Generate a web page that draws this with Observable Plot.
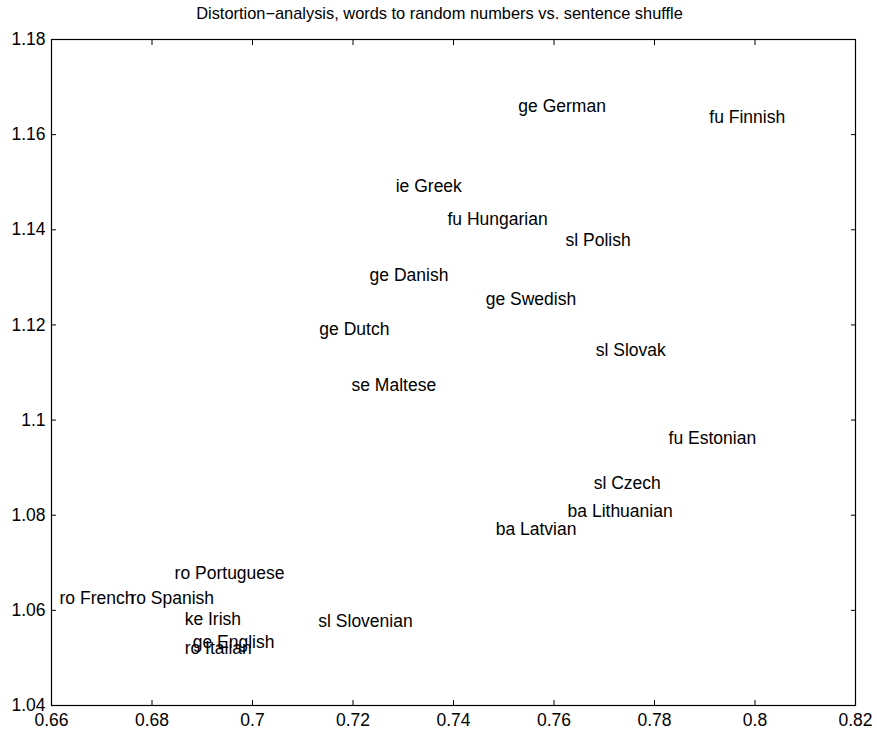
<!DOCTYPE html>
<html><head><meta charset="utf-8">
<script src="https://cdn.jsdelivr.net/npm/d3@7"></script>
<script src="https://cdn.jsdelivr.net/npm/@observablehq/plot@0.6"></script>
<style>body{margin:0;background:#fff} svg{display:block}</style>
</head><body><div id="chart"></div>
<script>
const title = "Distortion\u2212analysis, words to random numbers vs. sentence shuffle";
const labels = ["ge German","fu Finnish","ie Greek","fu Hungarian","sl Polish","ge Danish","ge Swedish","ge Dutch","sl Slovak","se Maltese","fu Estonian","sl Czech","ba Lithuanian","ba Latvian","ro Portuguese","ro French","ro Spanish","ke Irish","ge English","ro Italian","sl Slovenian"];
const xs = [0.7529,0.7909,0.7285,0.7388,0.7623,0.7233,0.7464,0.7133,0.7683,0.7197,0.7828,0.7679,0.7627,0.7484,0.6845,0.6616,0.6757,0.6865,0.6881,0.6865,0.7131];
const ys = [1.1659,1.1636,1.1491,1.1422,1.1377,1.1304,1.1253,1.1190,1.1146,1.1073,1.0961,1.0867,1.0808,1.0770,1.0677,1.0625,1.0625,1.0581,1.0532,1.0520,1.0577];
const xTicks = [0.66,0.68,0.70,0.72,0.74,0.76,0.78,0.80,0.82];
const yTicks = [1.04,1.06,1.08,1.10,1.12,1.14,1.16,1.18];
const data = labels.map((l,i)=>({label:l,x:xs[i],y:ys[i]}));
const fmt = d => String(+d.toFixed(2));
const font = "Helvetica, 'Liberation Sans', Arial, sans-serif";
const chart = Plot.plot({
  width: 877, height: 733,
  marginLeft: 51, marginRight: 22, marginTop: 39, marginBottom: 28,
  style: {fontFamily: font, background: "white", color: "black", fontSize: "17px"},
  x: {domain:[0.66,0.82], label: null},
  y: {domain:[1.04,1.18], label: null},
  marks: [
    Plot.axisX(xTicks, {anchor:"bottom", tickSize:-5, tickPadding:13, fontSize:17.5, label:null, tickFormat: fmt}),
    Plot.axisX(xTicks, {anchor:"top", tickSize:-5, label:null, tickFormat: () => ""}),
    Plot.axisY(yTicks, {anchor:"left", tickSize:-5, tickPadding:11, fontSize:17.5, label:null, tickFormat: fmt}),
    Plot.axisY(yTicks, {anchor:"right", tickSize:-5, label:null, tickFormat: () => ""}),
    Plot.frame({stroke:"black", strokeWidth:1.2}),
    Plot.text(data, {x:"x", y:"y", text:"label", textAnchor:"start", lineAnchor:"middle", fontSize:17.5, fill:"black"}),
    Plot.text([title], {frameAnchor:"top", dx:-14, dy:-21, fontSize:16.4, fill:"black", lineAnchor:"bottom"})
  ]
});
document.getElementById("chart").appendChild(chart);
</script></body></html>
